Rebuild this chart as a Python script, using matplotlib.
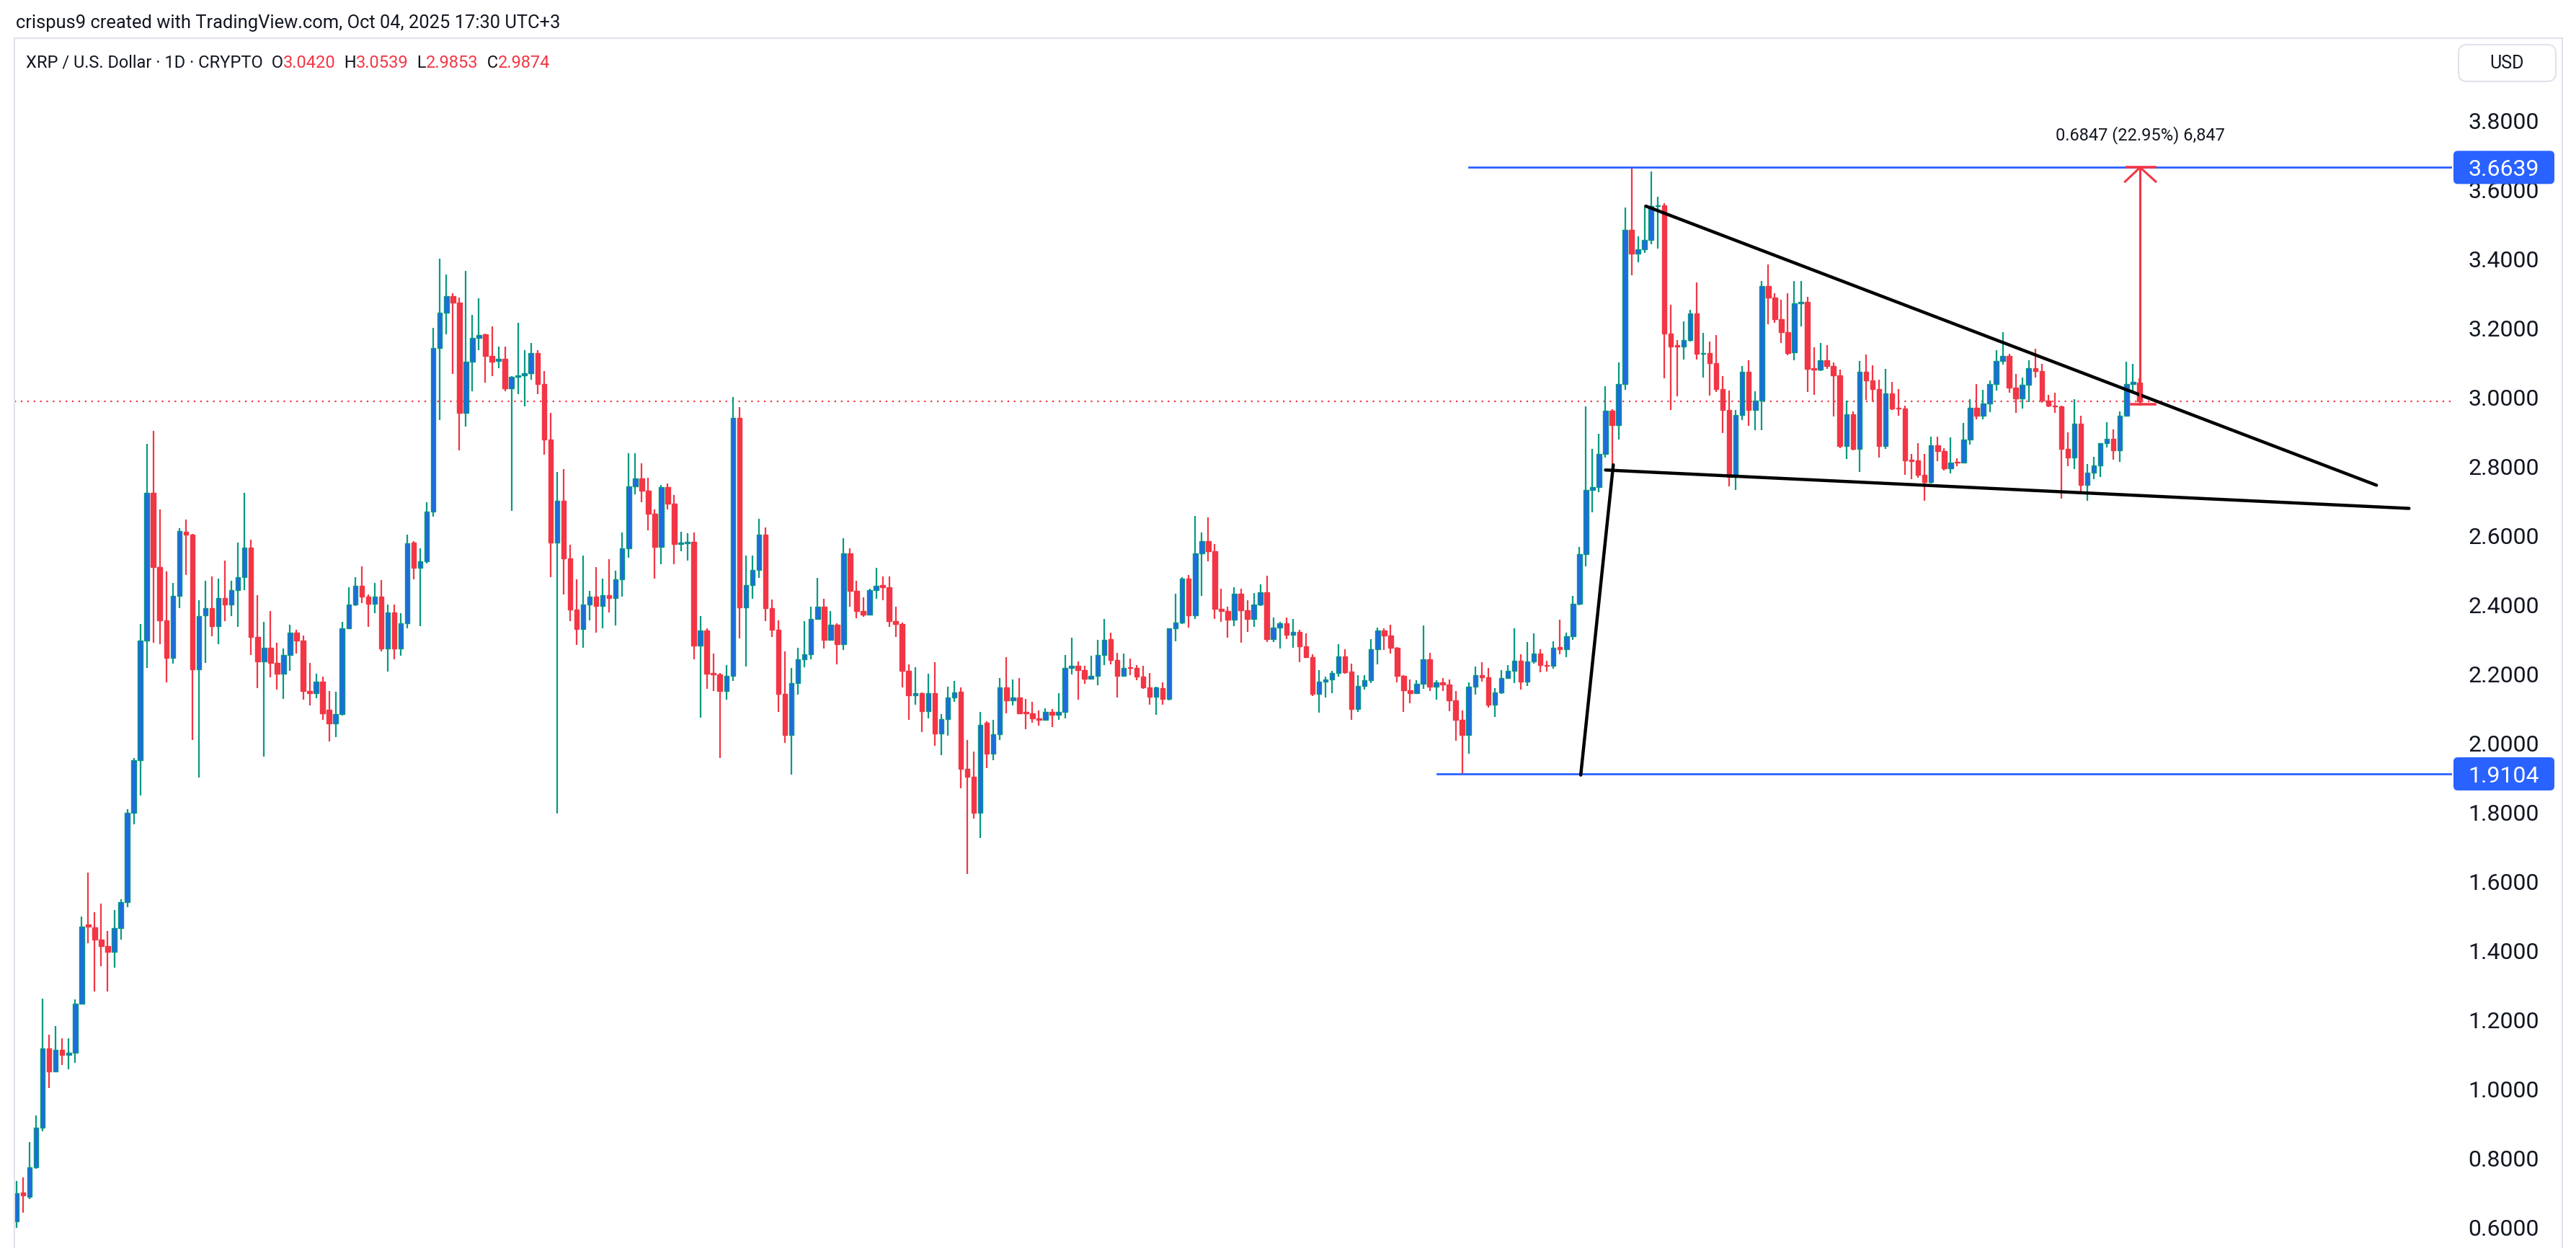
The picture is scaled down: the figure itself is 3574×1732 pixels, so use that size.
import numpy as np
import matplotlib.pyplot as plt
from matplotlib.patches import FancyBboxPatch
from matplotlib.lines import Line2D
from matplotlib.transforms import IdentityTransform

plt.rcParams['font.family'] = ['Roboto', 'DejaVu Sans']

# daily XRP/USD candles (oldest first)
opens = [
    0.616, 0.700, 0.687, 0.772, 0.887, 1.117, 1.051, 1.112, 1.097, 1.104,
    1.245, 1.474, 1.467, 1.432, 1.412, 1.396, 1.465, 1.540, 1.798, 1.949,
    2.295, 2.723, 2.508, 2.355, 2.246, 2.426, 2.610, 2.602, 2.213, 2.368,
    2.390, 2.337, 2.419, 2.400, 2.442, 2.479, 2.565, 2.306, 2.236, 2.274,
    2.232, 2.200, 2.255, 2.318, 2.295, 2.150, 2.144, 2.178, 2.095, 2.057,
    2.083, 2.332, 2.400, 2.454, 2.422, 2.403, 2.422, 2.273, 2.377, 2.273,
    2.345, 2.580, 2.507, 2.524, 2.668, 3.141, 3.243, 3.292, 3.272, 2.955,
    3.102, 3.170, 3.182, 3.119, 3.105, 3.110, 3.025, 3.058, 3.062, 3.069,
    3.128, 3.038, 2.877, 2.580, 2.701, 2.533, 2.386, 2.330, 2.400, 2.422,
    2.396, 2.428, 2.419, 2.473, 2.563, 2.742, 2.764, 2.730, 2.663, 2.566,
    2.739, 2.691, 2.576, 2.578, 2.581, 2.282, 2.326, 2.203, 2.198, 2.149,
    2.194, 2.939, 2.391, 2.456, 2.501, 2.603, 2.389, 2.328, 2.141, 2.022,
    2.172, 2.241, 2.256, 2.358, 2.394, 2.298, 2.341, 2.286, 2.547, 2.439,
    2.382, 2.371, 2.442, 2.457, 2.451, 2.352, 2.344, 2.208, 2.137, 2.143,
    2.092, 2.143, 2.027, 2.068, 2.132, 2.148, 1.924, 1.902, 1.798, 2.058,
    1.968, 2.024, 2.161, 2.122, 2.131, 2.089, 2.086, 2.071, 2.067, 2.089,
    2.082, 2.089, 2.216, 2.222, 2.210, 2.185, 2.194, 2.255, 2.300, 2.240,
    2.194, 2.218, 2.216, 2.191, 2.160, 2.134, 2.158, 2.128, 2.331, 2.348,
    2.475, 2.369, 2.548, 2.584, 2.554, 2.388, 2.382, 2.356, 2.432, 2.384,
    2.359, 2.400, 2.435, 2.299, 2.334, 2.345, 2.313, 2.320, 2.279, 2.247,
    2.141, 2.178, 2.183, 2.202, 2.249, 2.206, 2.097, 2.164, 2.181, 2.270,
    2.324, 2.311, 2.275, 2.193, 2.152, 2.143, 2.170, 2.241, 2.163, 2.174,
    2.169, 2.122, 2.066, 2.023, 2.162, 2.195, 2.190, 2.110, 2.145, 2.188,
    2.209, 2.238, 2.177, 2.236, 2.259, 2.226, 2.223, 2.277, 2.271, 2.308,
    2.403, 2.545, 2.732, 2.739, 2.836, 2.961, 2.919, 3.037, 3.484, 3.415,
    3.427, 3.455, 3.552, 3.554, 3.184, 3.149, 3.146, 3.165, 3.242, 3.124,
    3.127, 3.097, 3.022, 2.962, 2.769, 2.947, 3.072, 2.962, 2.989, 3.321,
    3.287, 3.225, 3.188, 3.129, 3.270, 3.275, 3.083, 3.079, 3.106, 3.089,
    3.062, 2.859, 2.949, 2.849, 3.072, 3.047, 3.023, 2.858, 3.011, 2.969,
    2.966, 2.819, 2.817, 2.774, 2.755, 2.861, 2.843, 2.793, 2.813, 2.810,
    2.877, 2.969, 2.946, 2.981, 3.037, 3.105, 3.118, 3.027, 2.995, 3.035,
    3.083, 3.074, 2.990, 2.976, 2.973, 2.851, 2.825, 2.923, 2.745, 2.781,
    2.803, 2.866, 2.879, 2.845, 2.946, 3.038, 3.0420,
]
highs = [
    0.734, 0.743, 0.845, 0.923, 1.261, 1.156, 1.182, 1.145, 1.146, 1.258,
    1.497, 1.625, 1.511, 1.535, 1.456, 1.517, 1.547, 1.809, 1.957, 2.344,
    2.864, 2.902, 2.675, 2.495, 2.462, 2.620, 2.646, 2.605, 2.413, 2.469,
    2.482, 2.475, 2.528, 2.469, 2.580, 2.723, 2.587, 2.428, 2.351, 2.382,
    2.290, 2.272, 2.342, 2.328, 2.310, 2.232, 2.201, 2.191, 2.151, 2.148,
    2.351, 2.450, 2.479, 2.510, 2.430, 2.462, 2.470, 2.400, 2.400, 2.374,
    2.603, 2.584, 2.563, 2.696, 3.199, 3.399, 3.354, 3.299, 3.288, 3.365,
    3.237, 3.286, 3.184, 3.204, 3.145, 3.145, 3.060, 3.215, 3.136, 3.156,
    3.136, 3.074, 2.955, 2.783, 2.791, 2.572, 2.473, 2.541, 2.439, 2.509,
    2.476, 2.532, 2.498, 2.608, 2.838, 2.837, 2.809, 2.767, 2.674, 2.745,
    2.751, 2.717, 2.610, 2.606, 2.608, 2.367, 2.332, 2.258, 2.202, 2.224,
    2.999, 2.970, 2.541, 2.541, 2.648, 2.623, 2.414, 2.354, 2.264, 2.216,
    2.275, 2.352, 2.394, 2.478, 2.416, 2.382, 2.345, 2.591, 2.563, 2.468,
    2.420, 2.446, 2.507, 2.482, 2.482, 2.394, 2.348, 2.228, 2.219, 2.146,
    2.199, 2.233, 2.083, 2.162, 2.179, 2.161, 2.008, 1.976, 2.089, 2.062,
    2.066, 2.187, 2.248, 2.183, 2.187, 2.127, 2.118, 2.093, 2.099, 2.097,
    2.144, 2.254, 2.304, 2.235, 2.222, 2.252, 2.298, 2.358, 2.318, 2.261,
    2.259, 2.244, 2.224, 2.222, 2.203, 2.162, 2.175, 2.332, 2.432, 2.479,
    2.485, 2.656, 2.609, 2.652, 2.574, 2.445, 2.393, 2.451, 2.445, 2.413,
    2.434, 2.459, 2.483, 2.362, 2.350, 2.362, 2.359, 2.327, 2.316, 2.256,
    2.211, 2.191, 2.209, 2.285, 2.271, 2.230, 2.195, 2.195, 2.300, 2.334,
    2.332, 2.341, 2.277, 2.195, 2.183, 2.181, 2.339, 2.261, 2.181, 2.188,
    2.183, 2.150, 2.093, 2.174, 2.220, 2.233, 2.216, 2.159, 2.211, 2.225,
    2.331, 2.256, 2.292, 2.316, 2.270, 2.237, 2.294, 2.356, 2.318, 2.426,
    2.566, 2.972, 2.849, 2.894, 3.032, 2.965, 3.101, 3.548, 3.6639, 3.465,
    3.552, 3.652, 3.580, 3.560, 3.266, 3.165, 3.218, 3.253, 3.331, 3.186,
    3.161, 3.179, 3.060, 3.019, 2.962, 3.089, 3.107, 3.017, 3.335, 3.383,
    3.300, 3.282, 3.300, 3.335, 3.335, 3.290, 3.144, 3.157, 3.149, 3.099,
    3.079, 2.989, 2.959, 3.104, 3.123, 3.091, 3.051, 3.081, 3.043, 3.023,
    2.975, 2.835, 2.867, 2.835, 2.885, 2.885, 2.853, 2.883, 2.823, 2.925,
    2.994, 3.037, 3.021, 3.047, 3.135, 3.187, 3.126, 3.067, 3.057, 3.106,
    3.139, 3.095, 3.007, 3.013, 2.976, 2.897, 2.994, 2.945, 2.807, 2.827,
    2.867, 2.927, 2.907, 2.959, 3.102, 3.095, 3.0539,
]
lows = [
    0.597, 0.641, 0.682, 0.769, 0.877, 1.002, 1.051, 1.068, 1.056, 1.076,
    1.245, 1.420, 1.281, 1.355, 1.281, 1.350, 1.432, 1.524, 1.765, 1.847,
    2.216, 2.290, 2.285, 2.175, 2.229, 2.390, 2.485, 2.009, 1.901, 2.232,
    2.308, 2.285, 2.352, 2.367, 2.336, 2.442, 2.255, 2.159, 1.960, 2.190,
    2.155, 2.127, 2.208, 2.259, 2.124, 2.109, 2.129, 2.067, 2.004, 2.016,
    2.080, 2.330, 2.395, 2.405, 2.335, 2.374, 2.264, 2.206, 2.241, 2.253,
    2.332, 2.473, 2.337, 2.518, 2.654, 2.934, 3.182, 3.066, 2.845, 2.915,
    3.017, 3.136, 3.041, 3.060, 3.083, 3.017, 2.671, 3.009, 2.972, 3.051,
    3.009, 2.834, 2.479, 1.796, 2.430, 2.352, 2.284, 2.275, 2.354, 2.318,
    2.332, 2.377, 2.340, 2.422, 2.535, 2.718, 2.696, 2.614, 2.476, 2.516,
    2.674, 2.516, 2.555, 2.527, 2.242, 2.072, 2.157, 2.149, 1.957, 2.126,
    2.179, 2.303, 2.220, 2.416, 2.478, 2.352, 2.307, 2.089, 2.000, 1.908,
    2.140, 2.219, 2.241, 2.358, 2.273, 2.298, 2.228, 2.269, 2.394, 2.360,
    2.365, 2.371, 2.417, 2.412, 2.335, 2.307, 2.160, 2.066, 2.111, 2.032,
    2.070, 1.991, 1.965, 2.021, 2.118, 1.868, 1.621, 1.782, 1.726, 1.928,
    1.951, 2.008, 2.086, 2.109, 2.084, 2.040, 2.058, 2.049, 2.065, 2.045,
    2.066, 2.071, 2.197, 2.125, 2.171, 2.183, 2.166, 2.224, 2.227, 2.131,
    2.192, 2.196, 2.181, 2.157, 2.110, 2.082, 2.110, 2.122, 2.293, 2.343,
    2.334, 2.358, 2.426, 2.524, 2.358, 2.351, 2.304, 2.338, 2.289, 2.320,
    2.336, 2.395, 2.291, 2.291, 2.272, 2.301, 2.275, 2.233, 2.245, 2.136,
    2.087, 2.131, 2.143, 2.191, 2.200, 2.066, 2.089, 2.154, 2.172, 2.228,
    2.268, 2.259, 2.176, 2.089, 2.115, 2.143, 2.157, 2.150, 2.124, 2.150,
    2.091, 2.006, 1.9104, 1.968, 2.139, 2.177, 2.102, 2.074, 2.141, 2.186,
    2.173, 2.155, 2.164, 2.230, 2.204, 2.207, 2.214, 2.256, 2.248, 2.298,
    2.398, 2.511, 2.666, 2.724, 2.824, 2.804, 2.877, 3.020, 3.353, 3.390,
    3.417, 3.441, 3.429, 3.054, 2.962, 3.002, 3.109, 3.160, 3.109, 3.056,
    3.004, 3.014, 2.896, 2.742, 2.731, 2.934, 2.917, 2.904, 2.904, 3.210,
    3.215, 3.157, 3.121, 3.106, 3.205, 3.014, 3.006, 3.076, 3.082, 2.944,
    2.852, 2.821, 2.846, 2.784, 2.991, 2.987, 2.826, 2.849, 2.963, 2.946,
    2.775, 2.763, 2.767, 2.701, 2.751, 2.815, 2.787, 2.779, 2.801, 2.809,
    2.863, 2.935, 2.935, 2.957, 3.019, 3.093, 3.013, 2.955, 2.967, 2.985,
    3.057, 2.983, 2.971, 2.955, 2.707, 2.801, 2.791, 2.721, 2.699, 2.763,
    2.769, 2.855, 2.818, 2.813, 2.943, 3.011, 2.9853,
]
closes = [
    0.698, 0.692, 0.772, 0.887, 1.117, 1.051, 1.112, 1.097, 1.104, 1.245,
    1.469, 1.469, 1.432, 1.412, 1.396, 1.465, 1.540, 1.798, 1.949, 2.295,
    2.723, 2.508, 2.355, 2.246, 2.426, 2.613, 2.603, 2.213, 2.367, 2.390,
    2.337, 2.419, 2.400, 2.442, 2.479, 2.565, 2.306, 2.236, 2.274, 2.232,
    2.200, 2.255, 2.318, 2.295, 2.150, 2.144, 2.178, 2.085, 2.057, 2.083,
    2.332, 2.400, 2.454, 2.422, 2.403, 2.422, 2.273, 2.377, 2.273, 2.345,
    2.578, 2.507, 2.524, 2.668, 3.141, 3.243, 3.292, 3.272, 2.955, 3.102,
    3.170, 3.179, 3.119, 3.103, 3.110, 3.025, 3.058, 3.062, 3.069, 3.128,
    3.038, 2.877, 2.580, 2.701, 2.533, 2.386, 2.330, 2.400, 2.422, 2.396,
    2.428, 2.419, 2.473, 2.563, 2.742, 2.764, 2.730, 2.663, 2.566, 2.739,
    2.691, 2.576, 2.578, 2.581, 2.282, 2.326, 2.199, 2.198, 2.149, 2.194,
    2.939, 2.391, 2.456, 2.501, 2.603, 2.389, 2.328, 2.141, 2.022, 2.172,
    2.241, 2.256, 2.358, 2.394, 2.298, 2.341, 2.286, 2.547, 2.439, 2.382,
    2.371, 2.442, 2.454, 2.450, 2.352, 2.344, 2.208, 2.137, 2.143, 2.092,
    2.143, 2.027, 2.068, 2.132, 2.146, 1.924, 1.902, 1.798, 2.053, 1.968,
    2.024, 2.161, 2.122, 2.131, 2.086, 2.086, 2.071, 2.067, 2.089, 2.082,
    2.089, 2.216, 2.222, 2.210, 2.185, 2.194, 2.255, 2.298, 2.240, 2.194,
    2.216, 2.216, 2.191, 2.160, 2.134, 2.160, 2.128, 2.331, 2.348, 2.475,
    2.369, 2.548, 2.584, 2.554, 2.388, 2.382, 2.356, 2.432, 2.384, 2.359,
    2.400, 2.435, 2.299, 2.334, 2.345, 2.313, 2.320, 2.279, 2.247, 2.141,
    2.178, 2.183, 2.202, 2.249, 2.204, 2.097, 2.164, 2.181, 2.270, 2.324,
    2.311, 2.275, 2.193, 2.152, 2.143, 2.170, 2.241, 2.163, 2.174, 2.169,
    2.122, 2.066, 2.023, 2.162, 2.195, 2.190, 2.110, 2.145, 2.188, 2.209,
    2.238, 2.177, 2.236, 2.259, 2.225, 2.223, 2.275, 2.271, 2.308, 2.403,
    2.545, 2.732, 2.739, 2.836, 2.961, 2.919, 3.037, 3.484, 3.415, 3.427,
    3.455, 3.552, 3.554, 3.184, 3.146, 3.146, 3.165, 3.242, 3.124, 3.127,
    3.097, 3.022, 2.962, 2.769, 2.947, 3.072, 2.962, 2.989, 3.321, 3.287,
    3.225, 3.188, 3.127, 3.270, 3.275, 3.081, 3.079, 3.106, 3.089, 3.062,
    2.859, 2.949, 2.849, 3.072, 3.047, 3.023, 2.858, 3.011, 2.967, 2.966,
    2.817, 2.815, 2.774, 2.755, 2.861, 2.843, 2.793, 2.811, 2.810, 2.877,
    2.969, 2.946, 2.981, 3.037, 3.105, 3.118, 3.027, 2.995, 3.035, 3.083,
    3.074, 2.990, 2.975, 2.973, 2.851, 2.825, 2.923, 2.745, 2.781, 2.803,
    2.866, 2.879, 2.845, 2.946, 3.038, 3.043, 2.9874,
]

price_ticks = [3.8, 3.6, 3.4, 3.2, 3.0, 2.8, 2.6, 2.4, 2.2, 2.0,
               1.8, 1.6, 1.4, 1.2, 1.0, 0.8, 0.6]
resistance = 3.6639
support = 1.9104
resistance_from = 223.0   # bar index where the drawn level starts
support_from = 218.2

# hand-drawn wedge lines: (bar index, price) end points
leg_x, leg_y = [240.2, 245.2], [1.907, 2.804]
lower_x, lower_y = [244.0, 367.4], [2.789, 2.678]
upper_x, upper_y = [250.2, 362.4], [3.552, 2.745]

# price range tool
range_x = 326.1
range_lo, range_hi = 2.9792, 3.6639
range_text = "0.6847 (22.95%) 6,847"

UP_BODY = '#1F6BE0'
UP_WICK = '#089981'
DOWN = '#F23645'
LEVEL = '#2962FF'
INK = '#131722'
FRAME = '#E0E3EB'

W, H = 3574, 1732
fig = plt.figure(figsize=(W / 100, H / 100), dpi=100)
fig.patch.set_facecolor('white')
ax = fig.add_axes([20 / W, 0, (3402 - 20) / W, 1 - 53 / H])
ax.set_xlim(-0.33, 374.0)
ax.set_ylim(0.5396, 4.0375)

o = np.array(opens)
h = np.array(highs)
l = np.array(lows)
c = np.array(closes)
x = np.arange(len(c))
up = c >= o
lo = np.minimum(o, c)
ht = np.maximum(np.abs(c - o), 0.003)

ax.axhline(closes[-1], color=DOWN, lw=1.6, ls=(0, (1, 3)), zorder=1)

ax.vlines(x[up], l[up], h[up], color=UP_WICK, lw=1.6, zorder=2)
ax.vlines(x[~up], l[~up], h[~up], color=DOWN, lw=1.6, zorder=2)
ax.bar(x[up], ht[up], bottom=lo[up], width=0.72, color=UP_BODY,
       edgecolor=UP_WICK, linewidth=1.0, zorder=3)
ax.bar(x[~up], ht[~up], bottom=lo[~up], width=0.72, color=DOWN,
       edgecolor=DOWN, linewidth=1.0, zorder=3)

ax.plot([resistance_from, 374.0], [resistance] * 2, color=LEVEL, lw=2, zorder=4)
ax.plot([support_from, 374.0], [support] * 2, color=LEVEL, lw=2, zorder=4)

for xs, ys in [(leg_x, leg_y), (lower_x, lower_y), (upper_x, upper_y)]:
    ax.plot(xs, ys, color='black', lw=3.2, solid_capstyle='round', zorder=5)

# range arrow
ax.plot([range_x, range_x], [range_lo, range_hi], color=DOWN, lw=2.2, zorder=6)
ax.plot([range_x - 2.0, range_x + 2.3], [range_hi] * 2, color=DOWN, lw=2.6, zorder=6)
ax.plot([range_x - 1.3, range_x + 2.3], [range_lo] * 2, color=DOWN, lw=2.6, zorder=6)
ax.plot([range_x - 2.3, range_x, range_x + 2.4], [range_hi - 0.041, range_hi, range_hi - 0.041],
        color=DOWN, lw=2.2, zorder=6)
ax.text(range_x, 3.757, range_text, ha='center', va='center', fontsize=17, color=INK)

for s in ax.spines.values():
    s.set_visible(False)
ax.set_xticks([])
ax.yaxis.tick_right()
ax.set_yticks(price_ticks)
ax.set_yticklabels([f'{v:.4f}' for v in price_ticks])
ax.tick_params(axis='y', length=0, pad=16, labelsize=23, labelcolor=INK)

ident = IdentityTransform()


def price_box(v):
    yp = ax.transData.transform((0, v))[1]
    fig.add_artist(FancyBboxPatch((3404, yp - 23), 140, 46,
                                  boxstyle='round,pad=0,rounding_size=6',
                                  transform=ident, fc=LEVEL, ec='none', zorder=5))
    fig.text(3474, yp, f'{v:.4f}', transform=ident, ha='center',
             va='center_baseline', fontsize=23, color='white', zorder=6)


price_box(resistance)
price_box(support)

# USD button
fig.add_artist(FancyBboxPatch((3411, H - 113), 135, 51,
                              boxstyle='round,pad=0,rounding_size=12',
                              transform=ident, fc='white', ec=FRAME, lw=1.5, zorder=5))
fig.text(3478, H - 88, 'USD', transform=ident, ha='center', va='center',
         fontsize=18, color=INK, zorder=6)

# pane frame
for xs, ys in [([20, 20], [0, H - 53]), ([20, 3555], [H - 53, H - 53]),
               ([3555, 3555], [0, H - 53])]:
    fig.add_artist(Line2D(xs, ys, transform=ident, color=FRAME, lw=1.5))

fig.text(22, H - 32, 'crispus9 created with TradingView.com, Oct 04, 2025 17:30 UTC+3',
         transform=ident, ha='left', va='center', fontsize=18.4, color=INK)

# legend line with last bar OHLC
renderer = fig.canvas.get_renderer()
pieces = [('XRP / U.S. Dollar · 1D · CRYPTO', INK),
          ('  O', INK), (f'{opens[-1]:.4f}', DOWN),
          ('  H', INK), (f'{highs[-1]:.4f}', DOWN),
          ('  L', INK), (f'{lows[-1]:.4f}', DOWN),
          ('  C', INK), (f'{closes[-1]:.4f}', DOWN)]
xp = 36
for txt, col in pieces:
    t = fig.text(xp, H - 87, txt, transform=ident, ha='left', va='center',
                 fontsize=17, color=col)
    xp += t.get_window_extent(renderer).width

fig.savefig('out.png', dpi=100, facecolor='white')
